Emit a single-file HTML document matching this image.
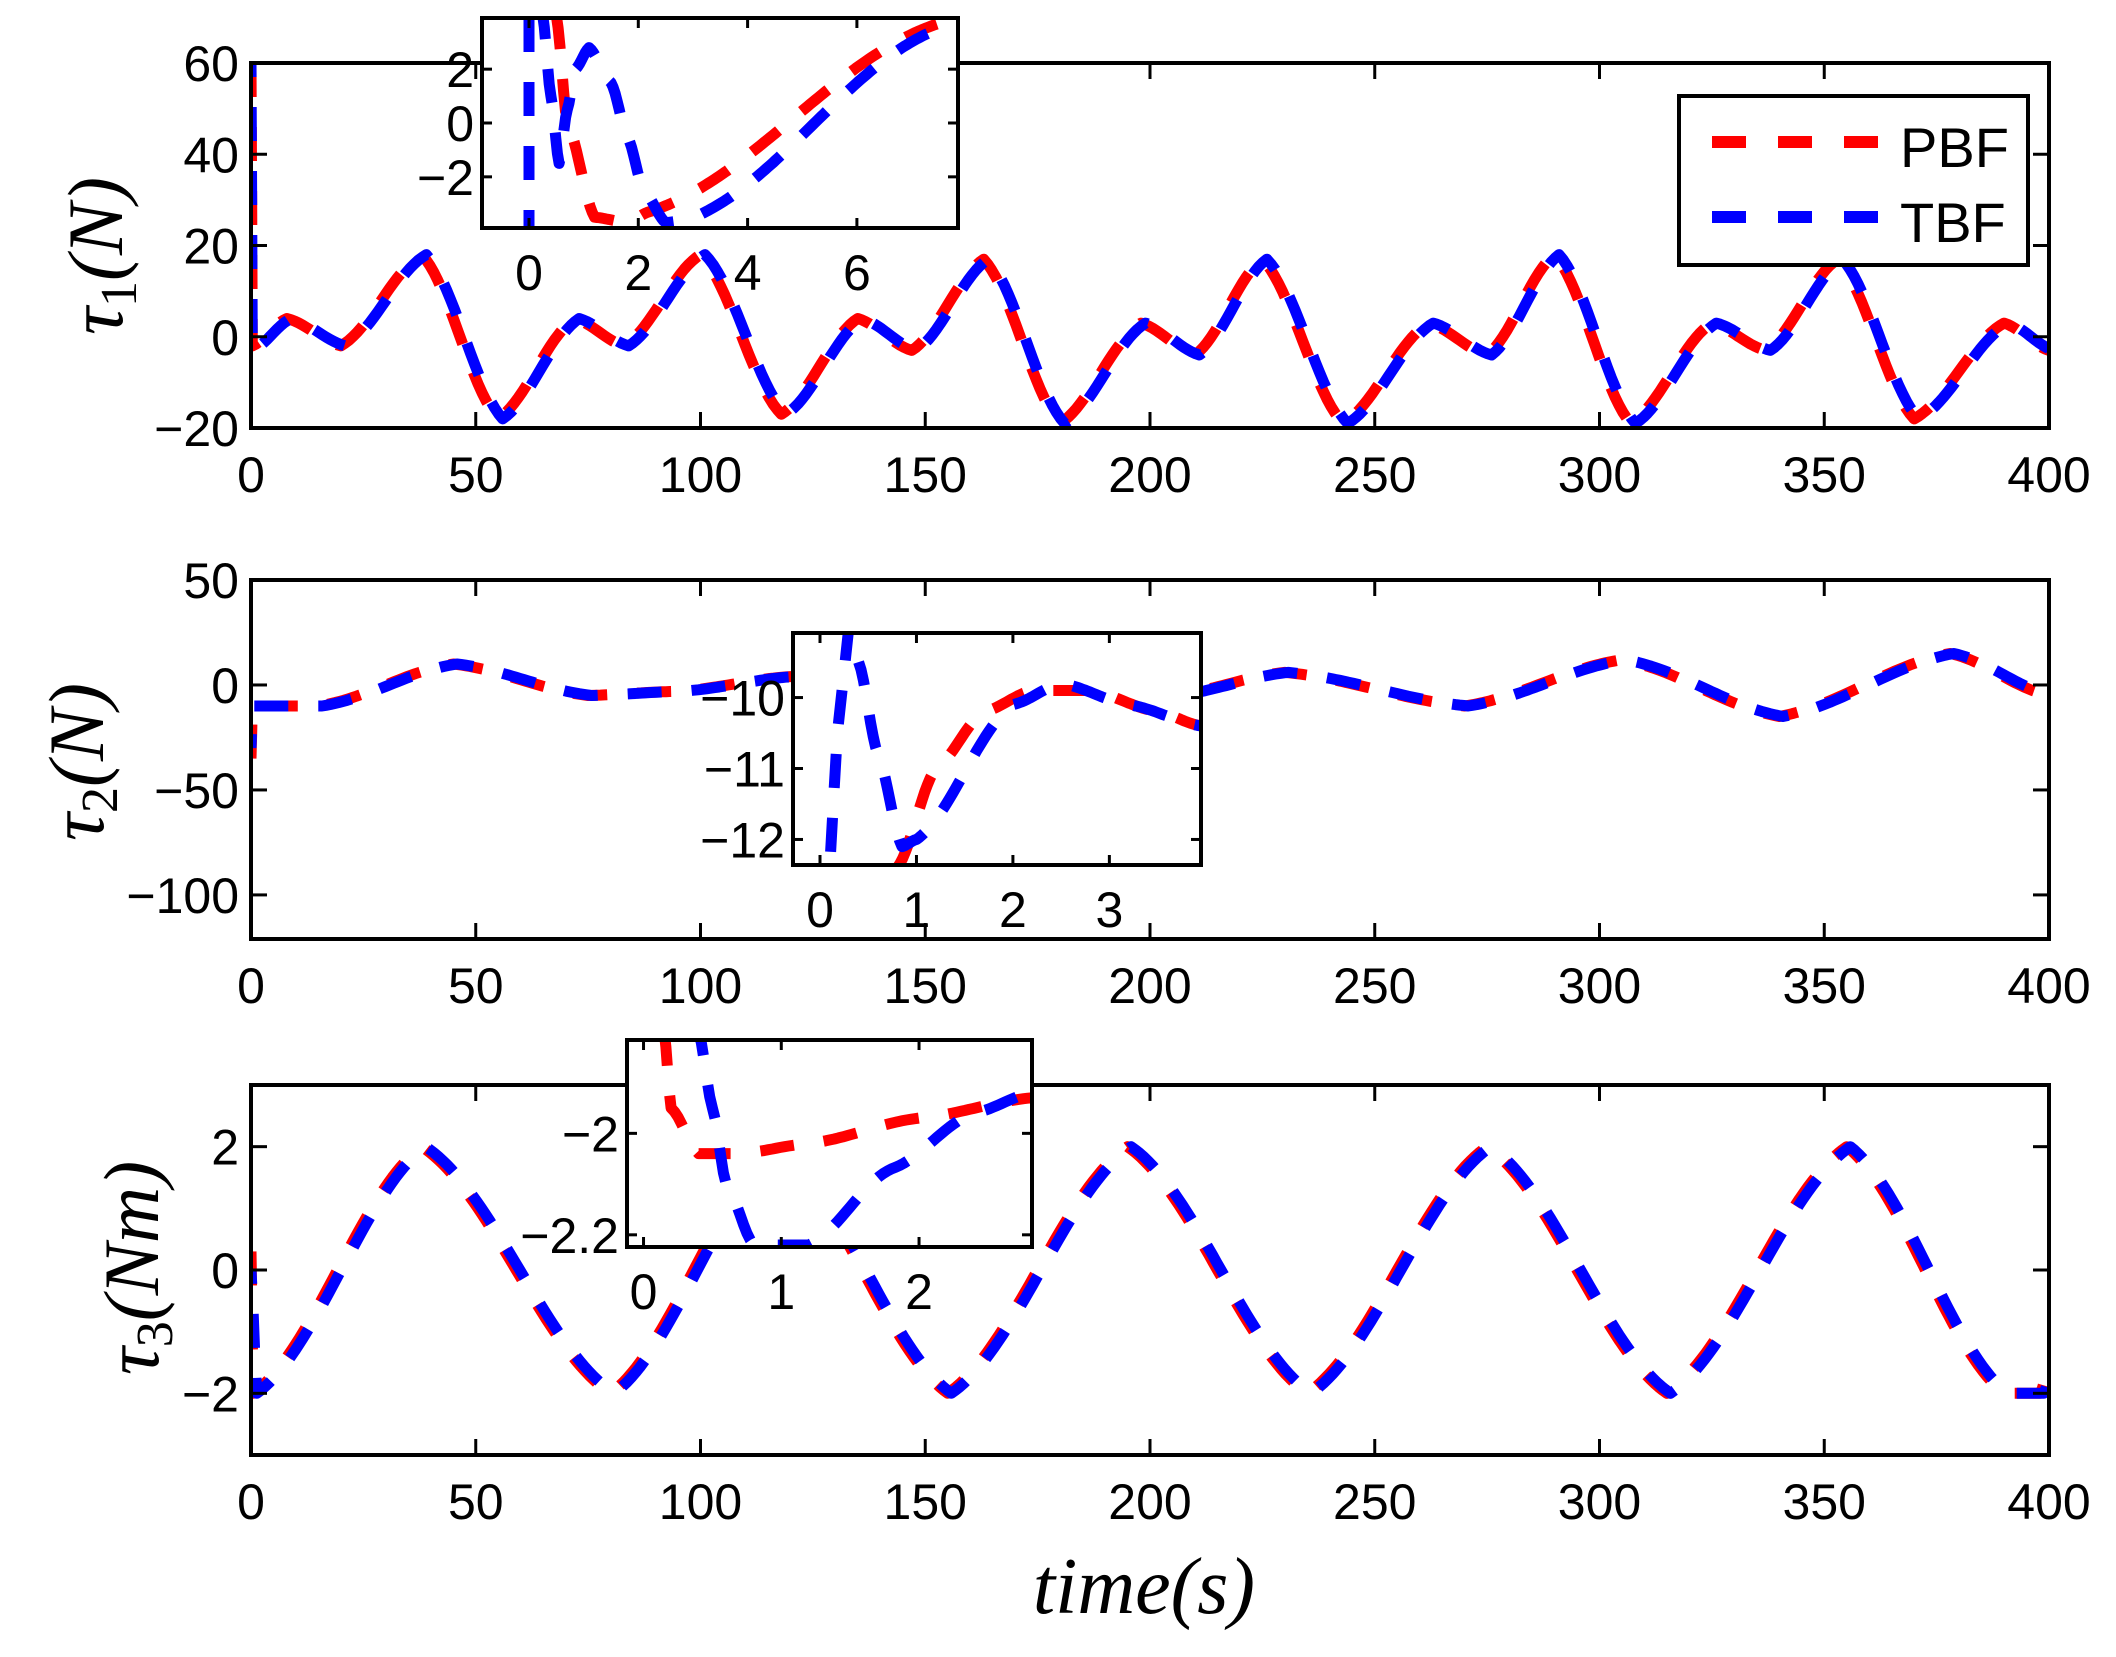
<!DOCTYPE html>
<html><head><meta charset="utf-8">
<style>
html,body{margin:0;padding:0;background:#fff;}
</style></head>
<body>
<svg id="s" xmlns="http://www.w3.org/2000/svg" width="2116" height="1652" viewBox="0 0 2116 1652" font-family="Liberation Sans, sans-serif"></svg>
<script>
const S=document.getElementById('s');
const NS='http://www.w3.org/2000/svg';
function el(t,a,txt){const e=document.createElementNS(NS,t);for(const k in a)e.setAttribute(k,a[k]);if(txt!==undefined)e.textContent=txt;S.appendChild(e);return e;}
function interp(pts,n){
  const out=[];
  for(let i=0;i<pts.length-1;i++){
    const [x0,y0]=pts[i],[x1,y1]=pts[i+1];
    const m=Math.max(2,Math.round(n*(x1-x0)+2));
    for(let j=0;j<m;j++){const t=j/m;const c=0.5*t+0.5*(1-Math.cos(Math.PI*t))/2;out.push([x0+(x1-x0)*t,y0+(y1-y0)*c]);}
  }
  out.push(pts[pts.length-1]);return out;
}
function axis(b){
  const X=v=>b.x0+(v-b.xmin)/(b.xmax-b.xmin)*(b.x1-b.x0);
  const Y=v=>b.y1-(v-b.ymin)/(b.ymax-b.ymin)*(b.y1-b.y0);
  return {X,Y};
}
function drawFrame(b,X,Y,tl,fs,xoff,yoff){
  el('rect',{x:b.x0,y:b.y0,width:b.x1-b.x0,height:b.y1-b.y0,fill:'none',stroke:'#000','stroke-width':4});
  for(const v of b.xt){const x=X(v);
    el('line',{x1:x,y1:b.y1,x2:x,y2:b.y1-tl,stroke:'#000','stroke-width':3});
    el('line',{x1:x,y1:b.y0,x2:x,y2:b.y0+tl,stroke:'#000','stroke-width':3});
    el('text',{x:x,y:b.y1+xoff,'font-size':fs,'text-anchor':'middle'},String(v).replace('-','\u2212'));}
  for(const v of b.yt){const y=Y(v);
    el('line',{x1:b.x0,y1:y,x2:b.x0+tl,y2:y,stroke:'#000','stroke-width':3});
    el('line',{x1:b.x1,y1:y,x2:b.x1-tl,y2:y,stroke:'#000','stroke-width':3});
    el('text',{x:b.x0-yoff,y:y+18,'font-size':fs,'text-anchor':'end'},String(v).replace('-','\u2212'));}
}
function curve(pts,X,Y,col,off,n,clip){
  const p=interp(pts,n||3).map(q=>X(q[0]).toFixed(1)+','+Y(q[1]).toFixed(1)).join(' ');
  const a={points:p,fill:'none',stroke:col,'stroke-width':11,'stroke-dasharray':'34 30','stroke-dashoffset':off,'stroke-linejoin':'round'};
  if(clip)a['clip-path']='url(#'+clip+')';
  el('polyline',a);
}
function clipRect(id,b){const d=el('clipPath',{id:id});const r=document.createElementNS(NS,'rect');r.setAttribute('x',b.x0);r.setAttribute('y',b.y0);r.setAttribute('width',b.x1-b.x0);r.setAttribute('height',b.y1-b.y0);d.appendChild(r);}

const FS=50;
const b1={x0:251,x1:2049,y0:63,y1:428,xmin:0,xmax:400,ymin:-20,ymax:60,xt:[0,50,100,150,200,250,300,350,400],yt:[-20,0,20,40,60]};
const a1=axis(b1);clipRect('c1',{x0:b1.x0,x1:b1.x1,y0:b1.y0-10,y1:b1.y1+10});
const t1=[[0,-2],[8,4],[20,-2],[38,18],[55,-18],[72,4],[83,-2],[100,18],[118,-17],[135,4],[147,-3],[163,17],[180,-19],[198,3],[210,-4],[225,17],[243,-19],[262,3],[275,-4],[290,18],[307,-19],[325,3],[337,-3],[353,17],[370,-18],[390,3],[400,-3]];
curve([[0,60],[0.3,-2]].concat(t1.slice(1)),a1.X,a1.Y,'#f00',0,1,'c1');
curve([[0,60],[0.3,-3]].concat(t1.slice(1).map(p=>[p[0]+1,p[1]])),a1.X,a1.Y,'#00f',20,1,'c1');
drawFrame(b1,a1.X,a1.Y,16,FS,64,12);
const i1={x0:482,x1:958,y0:18,y1:228,xmin:-0.86,xmax:7.85,ymin:-3.9,ymax:3.9,xt:[0,2,4,6],yt:[-2,0,2]};
const ai1=axis(i1);el('rect',{x:i1.x0,y:i1.y0,width:i1.x1-i1.x0,height:i1.y1-i1.y0,fill:'#fff'});clipRect('ci1',i1);
curve([[0.5,4],[0.7,0],[1.2,-3.5],[1.8,-3.7],[2.2,-3.3],[7.5,3.7]],ai1.X,ai1.Y,'#f00',0,20,'ci1');
el('line',{x1:ai1.X(0),y1:i1.y0,x2:ai1.X(0),y2:i1.y1,stroke:'#00f','stroke-width':11,'stroke-dasharray':'34 30'});
curve([[0.25,4],[0.4,1.0],[0.55,-1.5],[0.7,0.5],[0.85,2.0],[1.1,2.8],[1.5,1.5],[1.8,-0.5],[2.1,-2.5],[2.5,-3.7],[2.9,-3.6],[7.5,3.5]],ai1.X,ai1.Y,'#00f',10,20,'ci1');
drawFrame(i1,ai1.X,ai1.Y,10,FS,62,8);

const b2={x0:251,x1:2049,y0:580,y1:939,xmin:0,xmax:400,ymin:-121,ymax:50,xt:[0,50,100,150,200,250,300,350,400],yt:[-100,-50,0,50]};
const a2=axis(b2);clipRect('c2',b2);
const t2=[[0.5,-10],[15,-10],[45,10],[75,-5],[95,-3],[120,4],[150,4],[180,-2],[205,-5],[230,6],[270,-10],[305,12],[340,-15],[378,15],[400,-5]];
curve([[0,-35],[0.3,-10]].concat(t2),a2.X,a2.Y,'#f00',0,1,'c2');
curve([[0,-30],[0.3,-10]].concat(t2.map(p=>[p[0]+0.8,p[1]])),a2.X,a2.Y,'#00f',20,1,'c2');
drawFrame(b2,a2.X,a2.Y,16,FS,64,12);
const i2={x0:793,x1:1201,y0:633,y1:865,xmin:-0.28,xmax:3.95,ymin:-12.36,ymax:-9.09,xt:[0,1,2,3],yt:[-12,-11,-10]};
const ai2=axis(i2);el('rect',{x:i2.x0,y:i2.y0,width:i2.x1-i2.x0,height:i2.y1-i2.y0,fill:'#fff'});clipRect('ci2',i2);
curve([[0.8,-12.4],[1.2,-11],[1.7,-10.2],[2.2,-9.9],[2.8,-9.9],[3.5,-10.2],[3.95,-10.4]],ai2.X,ai2.Y,'#f00',0,30,'ci2');
curve([[0.3,-9.0],[0.18,-10.5],[0.1,-12.4]],ai2.X,ai2.Y,'#00f',0,30,'ci2');
curve([[0.4,-9.5],[0.6,-10.8],[0.85,-12.1],[1.0,-12.0],[2.0,-10.1],[2.5,-9.8],[3.2,-10.1],[3.95,-10.4]],ai2.X,ai2.Y,'#00f',10,30,'ci2');
drawFrame(i2,ai2.X,ai2.Y,10,FS,62,8);

const b3={x0:251,x1:2049,y0:1085,y1:1455,xmin:0,xmax:400,ymin:-3,ymax:3,xt:[0,50,100,150,200,250,300,350,400],yt:[-2,0,2]};
const a3=axis(b3);clipRect('c3',b3);
const t3=[[0.5,-2],[38,2],[80,-2],[117,2],[155,-2],[195,2],[235,-2],[275,2],[315,-2],[355,2],[390,-2],[398,-2],[400,-1.6]];
curve([[0,0.3]].concat(t3),a3.X,a3.Y,'#f00',0,1,'c3');
curve([[0,0]].concat(t3.map(p=>[p[0]+0.8,p[1]])),a3.X,a3.Y,'#00f',20,1,'c3');
drawFrame(b3,a3.X,a3.Y,16,FS,64,12);
const i3={x0:627,x1:1032,y0:1040,y1:1247,xmin:-0.12,xmax:2.82,ymin:-2.224,ymax:-1.816,xt:[0,1,2],yt:[-2.2,-2]};
const ai3=axis(i3);el('rect',{x:i3.x0,y:i3.y0,width:i3.x1-i3.x0,height:i3.y1-i3.y0,fill:'#fff'});clipRect('ci3',i3);
curve([[0.15,-1.8],[0.2,-1.95],[0.4,-2.04],[0.7,-2.04],[1.2,-2.02],[2,-1.97],[2.82,-1.93]],ai3.X,ai3.Y,'#f00',0,30,'ci3');
curve([[0.4,-1.8],[0.5,-1.95],[0.6,-2.1],[0.8,-2.22],[1.2,-2.22],[1.8,-2.07],[2.4,-1.96],[2.82,-1.92]],ai3.X,ai3.Y,'#00f',10,30,'ci3');
drawFrame(i3,ai3.X,ai3.Y,10,FS,62,8);

el('rect',{x:1679,y:96,width:349,height:169,fill:'#fff',stroke:'#000','stroke-width':4});
el('line',{x1:1712,y1:142,x2:1880,y2:142,stroke:'#f00','stroke-width':12,'stroke-dasharray':'34 32'});
el('line',{x1:1712,y1:217,x2:1880,y2:217,stroke:'#00f','stroke-width':12,'stroke-dasharray':'34 32'});
el('text',{x:1900,y:167,'font-size':56},'PBF');
el('text',{x:1900,y:242,'font-size':56},'TBF');

function ylab(x,y,main,sub,rest){
  const t=el('text',{x:0,y:0,'font-size':78,style:'font-family:"Liberation Serif",serif;font-style:italic','text-anchor':'middle',transform:`translate(${x},${y}) rotate(-90)`});
  const a=document.createElementNS(NS,'tspan');a.textContent=main;t.appendChild(a);
  const b=document.createElementNS(NS,'tspan');b.setAttribute('font-size',52);b.setAttribute('style','font-style:normal');b.setAttribute('dy',14);b.textContent=sub;t.appendChild(b);
  const c=document.createElementNS(NS,'tspan');c.setAttribute('dy',-14);c.textContent=rest;t.appendChild(c);
}
ylab(122,256,'\u03C4','1','(N)');
ylab(103,762,'\u03C4','2','(N)');
ylab(158,1268,'\u03C4','3','(Nm)');
el('text',{x:1144,y:1613,'font-size':80,style:'font-family:"Liberation Serif",serif;font-style:italic','text-anchor':'middle'},'time(s)');
</script>
</body></html>
